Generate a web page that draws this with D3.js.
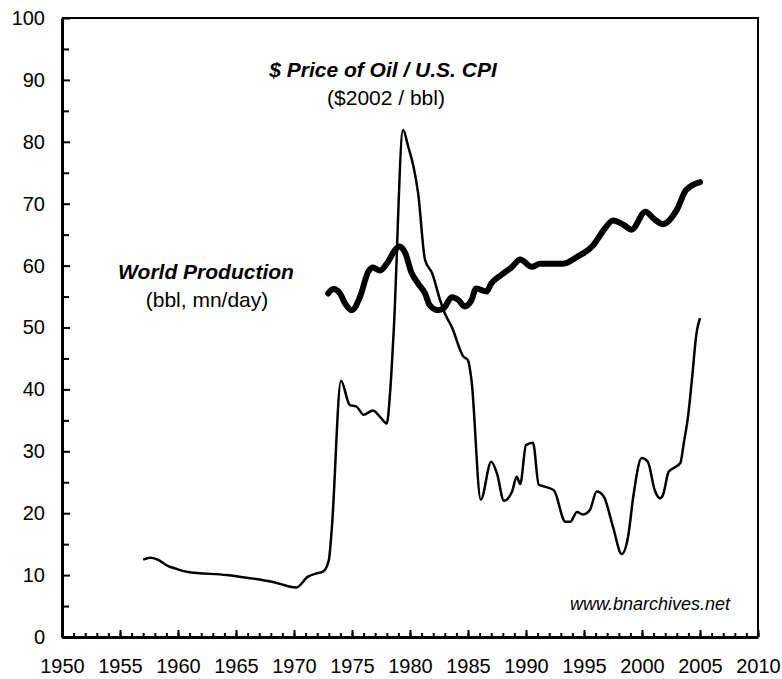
<!DOCTYPE html>
<html>
<head>
<meta charset="utf-8">
<script src="https://cdn.jsdelivr.net/npm/d3@7"></script>
<style>
body { margin: 0; background: #fff; }
text { font-family: Arial, "Liberation Sans", sans-serif; fill: #000; }
</style>
</head>
<body>
<script>
//Data
//real oil price ($2002 / bbl), thin line
var oilYears = [1957.0, 1957.6, 1958.2, 1959.2, 1959.7, 1960.75, 1964.2, 1965.3, 1968.2, 1970.2,
    1971.2, 1972.0, 1972.5, 1973.0, 1973.25, 1974.05, 1974.8, 1975.4, 1976.0, 1976.8,
    1977.4, 1978.0, 1978.3, 1978.6, 1979.4, 1979.85, 1980.3, 1980.7, 1981.3, 1981.9,
    1982.6, 1983.0, 1983.6, 1984.6, 1985.0, 1985.3, 1986.1, 1987.0, 1987.5, 1988.1,
    1988.8, 1989.2, 1989.5, 1990.0, 1990.6, 1991.1, 1991.6, 1992.4, 1993.4, 1993.8,
    1994.4, 1994.9, 1995.5, 1996.1, 1996.7, 1997.5, 1998.25, 1998.8, 1999.25, 1999.97,
    2000.5, 2001.1, 2001.55, 2001.8, 2002.3, 2002.8, 2003.3, 2003.6, 2004.0, 2004.3,
    2004.7, 2005.0];
var oilPrice = [12.5, 12.8, 12.55, 11.4, 11.1, 10.55, 10.0, 9.75, 8.9, 8.0,
    9.75, 10.3, 10.55, 12.4, 17.3, 41.4, 37.5, 37.2, 35.9, 36.6,
    35.6, 34.5, 39.9, 49.6, 81.9, 79.2, 76.0, 71.7, 60.9, 58.8,
    54.4, 52.3, 50.1, 45.3, 44.7, 41.5, 22.2, 28.3, 26.4, 22.0,
    23.5, 25.9, 24.7, 31.0, 31.4, 24.6, 24.3, 23.7, 18.6, 18.6,
    20.2, 19.8, 20.5, 23.5, 22.7, 17.8, 13.4, 16.2, 22.7, 28.9,
    28.3, 23.7, 22.4, 22.9, 26.7, 27.4, 28.1, 31.3, 36.1, 41.5,
    49.1, 51.5];

//world production (bbl, mn/day), thick line
var prodYears = [1972.95, 1973.4, 1973.97, 1974.4, 1974.97, 1975.7, 1976.4, 1976.8, 1977.4, 1978.1,
    1978.7, 1979.1, 1979.6, 1980.1, 1980.7, 1981.3, 1981.7, 1982.4, 1982.9, 1983.6,
    1984.2, 1984.7, 1985.3, 1985.7, 1986.6, 1987.0, 1987.8, 1988.8, 1989.5, 1990.5,
    1991.2, 1993.2, 1994.4, 1995.8, 1996.8, 1997.5, 1998.4, 1999.1, 2000.3, 2001.0,
    2001.8, 2003.0, 2003.8, 2005.0];
var prodVolume = [55.5, 56.2, 55.5, 53.9, 52.8, 55.0, 59.0, 59.7, 59.2, 60.6,
    62.5, 63.1, 62.0, 59.0, 57.1, 55.5, 53.6, 52.8, 53.1, 54.9,
    54.4, 53.4, 54.4, 56.3, 55.8, 57.1, 58.4, 59.8, 61.0, 59.8,
    60.3, 60.3, 61.4, 63.3, 66.0, 67.3, 66.6, 65.8, 68.7, 67.6,
    66.7, 69.0, 72.2, 73.5];

//tick labels
var xTickYears = [1950, 1955, 1960, 1965, 1970, 1975, 1980, 1985, 1990, 1995, 2000, 2005, 2010];
var yTickValues = [0, 10, 20, 30, 40, 50, 60, 70, 80, 90, 100];

//set up the svg dimensions and margins
var margin = {
        top: 18,
        right: 24,
        bottom: 42,
        left: 62
    },
    width = 782 - margin.left - margin.right,
    height = 679 - margin.top - margin.bottom;

var svg = d3.select("body").append("svg")
    .attr("width", 782)
    .attr("height", 679)
    .append("g")
    .attr("transform", "translate(" + margin.left + "," + margin.top + ")");

var xScale = d3.scaleLinear()
    .domain([1950, 2010])
    .range([0, width]);

var yScale = d3.scaleLinear()
    .domain([0, 100])
    .range([height, 0]);

//frame top and right
svg.append("path")
    .attr("d", "M0,0H" + width + "V" + height)
    .attr("fill", "none")
    .attr("stroke", "#000")
    .attr("stroke-width", 2);

//minor x ticks every year
svg.append("g")
    .attr("transform", "translate(0," + height + ")")
    .call(d3.axisBottom(xScale).tickValues(d3.range(1950, 2011)).tickSize(-4).tickSizeOuter(0).tickFormat(""))
    .call(function(g) { g.select(".domain").remove(); })
    .selectAll("line").attr("stroke-width", 2);

//major x ticks and labels
var xAxis = svg.append("g")
    .attr("transform", "translate(0," + height + ")")
    .call(d3.axisBottom(xScale).tickValues(xTickYears).tickSize(-7).tickSizeOuter(0).tickPadding(22).tickFormat(d3.format("d")));
xAxis.select(".domain").attr("stroke-width", 3);
xAxis.selectAll("line").attr("stroke-width", 2);
xAxis.selectAll("text").style("font-size", "20px");

//minor y ticks
svg.append("g")
    .call(d3.axisLeft(yScale).tickValues(d3.range(5, 100, 10)).tickSize(-7).tickSizeOuter(0).tickFormat(""))
    .call(function(g) { g.select(".domain").remove(); })
    .selectAll("line").attr("stroke-width", 2);

//major y ticks and labels
var yAxis = svg.append("g")
    .call(d3.axisLeft(yScale).tickValues(yTickValues).tickSize(-8).tickSizeOuter(0).tickPadding(17));
yAxis.select(".domain").attr("stroke-width", 3);
yAxis.selectAll("line").attr("stroke-width", 2);
yAxis.selectAll("text").style("font-size", "20px");

//lines
var oilData = oilYears.map(function(y, i) { return { year: y, value: oilPrice[i] }; });
var prodData = prodYears.map(function(y, i) { return { year: y, value: prodVolume[i] }; });

var line = d3.line()
    .x(function(d) { return xScale(d.year); })
    .y(function(d) { return yScale(d.value); })
    .curve(d3.curveMonotoneX);

svg.append("path")
    .datum(oilData)
    .attr("fill", "none")
    .attr("stroke", "#000")
    .attr("stroke-width", 2.5)
    .attr("stroke-linejoin", "round")
    .attr("d", line);

svg.append("path")
    .datum(prodData)
    .attr("fill", "none")
    .attr("stroke", "#000")
    .attr("stroke-width", 6)
    .attr("stroke-linejoin", "round")
    .attr("stroke-linecap", "round")
    .attr("d", line);

//labels
function label(txt, x, y, size, weight, style) {
    svg.append("text")
        .attr("x", x - margin.left)
        .attr("y", y - margin.top)
        .attr("text-anchor", "middle")
        .style("font-size", size + "px")
        .style("font-weight", weight)
        .style("font-style", style)
        .text(txt);
}
label("$ Price of Oil / U.S. CPI", 383, 77, 21, "bold", "italic");
label("($2002 / bbl)", 386, 105, 21, "normal", "normal");
label("World Production", 206, 279, 21, "bold", "italic");
label("(bbl, mn/day)", 207, 307, 21, "normal", "normal");

svg.append("text")
    .attr("x", 730 - margin.left)
    .attr("y", 610 - margin.top)
    .attr("text-anchor", "end")
    .style("font-size", "18px")
    .style("font-style", "italic")
    .text("www.bnarchives.net");
</script>
</body>
</html>
